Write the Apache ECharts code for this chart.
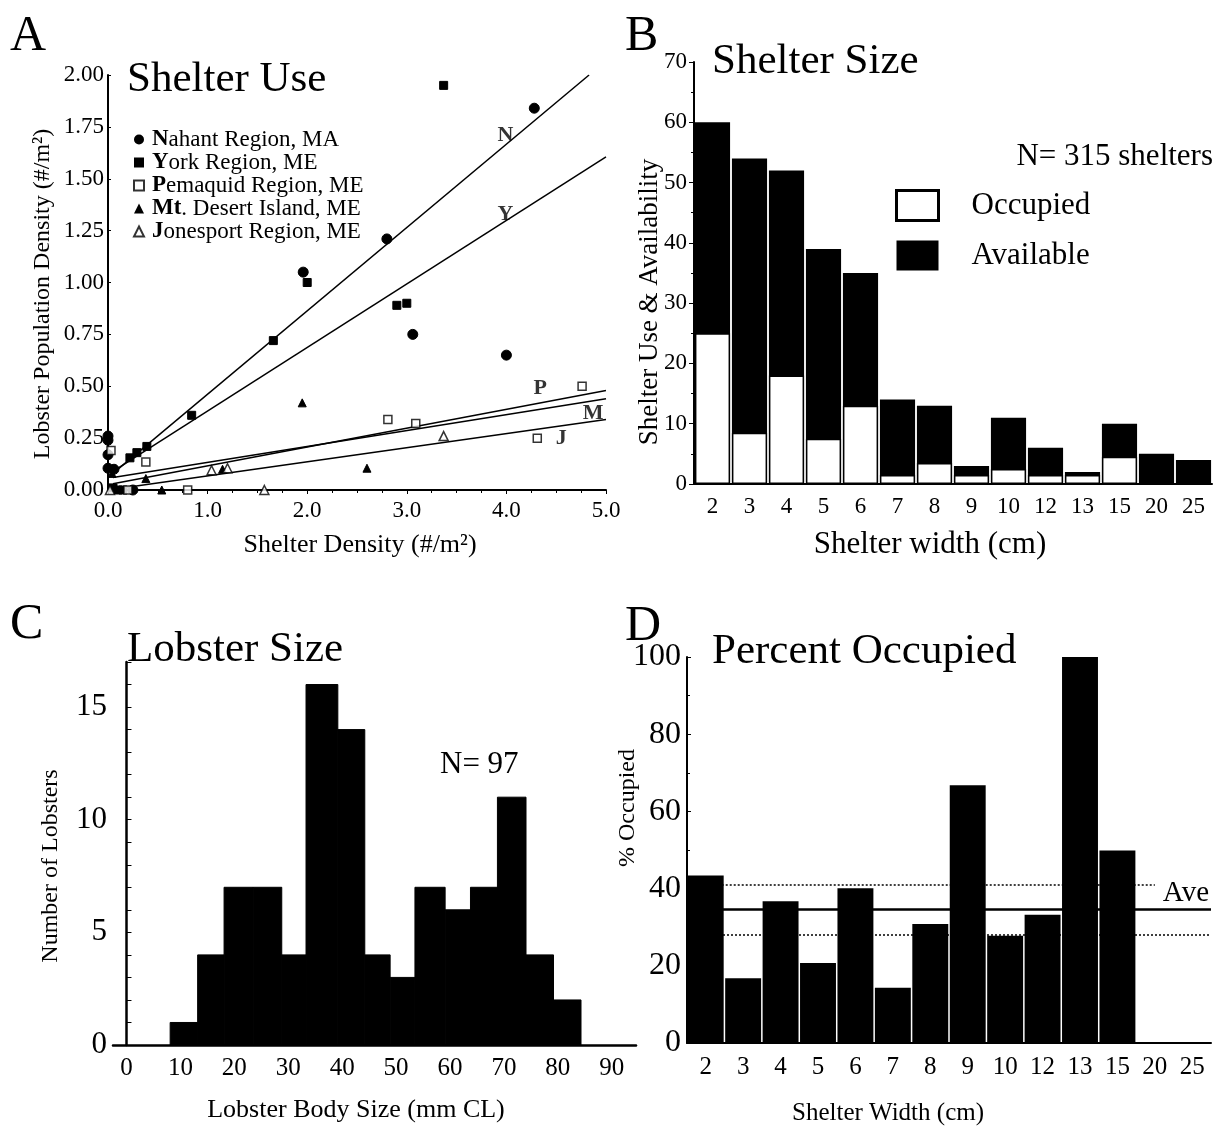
<!DOCTYPE html>
<html>
<head>
<meta charset="utf-8">
<script src="https://cdn.jsdelivr.net/npm/echarts@6/dist/echarts.min.js"></script>
<style>
  html, body { margin: 0; padding: 0; background: #fff; }
  #chart { width: 1230px; height: 1130px; }
</style>
</head>
<body>
<div id="chart"></div>
<script>
// ---- Panel A: shelter use (shelter density vs lobster density) ----
const nahant = [[0, 0.26], [0, 0.24], [0, 0.17], [0, 0.105], [0.06, 0.1], [0.25, 0], [1.96, 1.05], [2.8, 1.21], [3.06, 0.75], [4.0, 0.65], [4.28, 1.84]]
const york = [[0.05, 0.01], [0.1, 0], [0.15, 0], [0.22, 0.155], [0.29, 0.18], [0.39, 0.21], [0.84, 0.36], [1.66, 0.72], [2.0, 1.0], [2.9, 0.89], [3.0, 0.9], [3.37, 1.95]]
const pemaquid = [[0.03, 0.19], [0.2, 0], [0.38, 0.135], [0.8, 0], [2.81, 0.34], [3.09, 0.32], [4.31, 0.25], [4.76, 0.5]]
const mtDesert = [[0.04, 0.08], [0.38, 0.055], [0.54, 0], [1.15, 0.1], [1.95, 0.42], [2.6, 0.105]]
const jonesport = [[0.02, 0], [1.04, 0.095], [1.2, 0.105], [1.57, 0], [3.37, 0.26]]
// regression lines, end points
const fitN = [[0.05, 0.08], [4.83, 2.0]]
const fitY = [[0.05, 0.09], [5.0, 1.605]]
const fitP = [[0.05, 0.03], [5.0, 0.48]]
const fitM = [[0.05, 0.06], [5.0, 0.44]]
const fitJ = [[0.0, 0.0], [5.0, 0.34]]
const fitLabels = [[3.99, 1.71, 'N'], [3.99, 1.33, 'Y'], [4.34, 0.49, 'P'], [4.87, 0.37, 'M'], [4.55, 0.25, 'J']]

// ---- Panel B: shelter size ----
const widths = ['2', '3', '4', '5', '6', '7', '8', '9', '10', '12', '13', '15', '20', '25']
const available = [60, 54, 52, 39, 35, 14, 13, 3, 11, 6, 2, 10, 5, 4]
const occupied = [25, 8.5, 18, 7.5, 13, 1.5, 3.5, 1.5, 2.5, 1.5, 1.5, 4.5, 0, 0]

// ---- Panel C: lobster size histogram ----
const binEdges = [8.1, 13.2, 18.1, 23.5, 28.8, 33.3, 39.2, 44.2, 48.9, 53.5, 59.1, 63.8, 68.8, 74.1, 79.2, 84.3]
const lobsterCount = [1, 4, 7, 7, 4, 16, 14, 4, 3, 7, 6, 7, 11, 4, 2]
const sizeTicks = [0, 10, 20, 30, 40, 50, 60, 70, 80, 90]

// ---- Panel D: percent occupied ----
const pctOccupied = [43.4, 16.8, 36.7, 20.7, 40.1, 14.3, 30.8, 66.8, 27.8, 33.2, 100, 49.9, 0, 0]
const pctAverage = 34.6
const pctUpper = 41
const pctLower = 28

const serif = '"Liberation Serif", "DejaVu Serif", serif'
const black = '#000'

const axisLine = { lineStyle: { color: black, width: 2 } }
const labelStyle = (size) => ({ color: black, fontFamily: serif, fontSize: size })

const text = (str, x, y, size, opts = {}) => ({
  type: 'text',
  x,
  y,
  rotation: opts.rotate ? Math.PI / 2 : 0,
  style: {
    text: str,
    fill: black,
    font: `${opts.bold ? 'bold ' : ''}${size}px ${serif}`,
    align: opts.align || 'left',
    verticalAlign: 'middle',
  },
})

const scatter = (name, data, symbol, size) => ({
  name,
  type: 'scatter',
  xAxisIndex: 0,
  yAxisIndex: 0,
  data,
  symbol,
  symbolSize: size,
  itemStyle: { color: black, borderColor: black, opacity: 1 },
  z: 5,
})

const fitLine = (data) => ({
  type: 'line',
  xAxisIndex: 0,
  yAxisIndex: 0,
  data,
  showSymbol: false,
  symbol: 'none',
  lineStyle: { color: black, width: 1.5 },
  silent: true,
  z: 4,
})

const myChart = echarts.init(document.getElementById('chart'), null, { renderer: 'canvas' })

const option = {
  backgroundColor: '#fff',
  animation: false,
  grid: [
    { left: 108, top: 75, width: 498, height: 415, outerBoundsMode: 'none' },
    { left: 694, top: 62, width: 518, height: 422, outerBoundsMode: 'none' },
    { left: 113, top: 662, width: 523, height: 383, outerBoundsMode: 'none' },
    { left: 687, top: 657, width: 524, height: 386, outerBoundsMode: 'none' },
  ],
  xAxis: [
    {
      gridIndex: 0, type: 'value', min: 0, max: 5, interval: 1,
      axisLine, splitLine: { show: false },
      axisTick: { show: true, length: 4, lineStyle: { color: black } },
      minorTick: { show: true, splitNumber: 4, length: 3, lineStyle: { color: black } },
      axisLabel: { ...labelStyle(23), margin: 9, formatter: (v) => v.toFixed(1) },
    },
    {
      gridIndex: 1, type: 'category', data: widths,
      axisLine, axisTick: { alignWithLabel: true, length: 5, lineStyle: { color: black } },
      axisLabel: { ...labelStyle(23), margin: 11 },
    },
    {
      gridIndex: 2, type: 'value', min: -2.5, max: 94.5,
      axisLine: { lineStyle: { color: black, width: 2.5 } }, splitLine: { show: false },
      axisTick: { show: false },
      axisLabel: { ...labelStyle(25), margin: 11, customValues: sizeTicks },
    },
    {
      gridIndex: 3, type: 'category', data: widths,
      axisLine, axisTick: { alignWithLabel: true, length: 5, lineStyle: { color: black } },
      axisLabel: { ...labelStyle(25), margin: 12 },
    },
  ],
  yAxis: [
    {
      gridIndex: 0, type: 'value', min: 0, max: 2, interval: 0.25,
      axisLine: { show: true, ...axisLine }, splitLine: { show: false },
      axisTick: { show: true, inside: true, length: 3, lineStyle: { color: black } },
      axisLabel: { ...labelStyle(23), margin: 4, formatter: (v) => v.toFixed(2) },
    },
    {
      gridIndex: 1, type: 'value', min: 0, max: 70, interval: 10,
      axisLine: { show: true, ...axisLine }, splitLine: { show: false },
      axisTick: { show: true, length: 5, lineStyle: { color: black } },
      minorTick: { show: true, splitNumber: 2, length: 3, lineStyle: { color: black } },
      axisLabel: { ...labelStyle(23), margin: 7 },
    },
    {
      gridIndex: 2, type: 'value', min: 0, max: 17, interval: 1,
      axisLine: { show: true, lineStyle: { color: black, width: 2.5 } }, splitLine: { show: false },
      axisTick: { show: true, inside: true, length: 5, lineStyle: { color: black } },
      axisLabel: { ...labelStyle(31), margin: 6, formatter: (v) => (v % 5 === 0 ? v : '') },
    },
    {
      gridIndex: 3, type: 'value', min: 0, max: 100, interval: 20,
      axisLine: { show: true, ...axisLine }, splitLine: { show: false },
      axisTick: { show: true, inside: true, length: 4, lineStyle: { color: black } },
      minorTick: { show: true, splitNumber: 2, length: 3, lineStyle: { color: black } },
      axisLabel: { ...labelStyle(32), margin: 6 },
    },
  ],
  legend: [
    {
      orient: 'vertical',
      left: 128,
      top: 123,
      itemWidth: 10,
      itemHeight: 10,
      itemGap: 0,
      selectedMode: false,
      data: ['Nahant Region, MA', 'York Region, ME', 'Pemaquid Region, ME', 'Mt. Desert Island, ME', 'Jonesport Region, ME'],
      formatter: (name) => (name.startsWith('Mt')
        ? '{b|Mt}' + name.slice(2)
        : '{b|' + name[0] + '}' + name.slice(1)),
      textStyle: {
        color: black, fontFamily: serif, fontSize: 23, lineHeight: 22.5, padding: [0, 0, 0, 3],
        rich: { b: { fontFamily: serif, fontSize: 23, fontWeight: 'bold', color: black } },
      },
    },
    {
      orient: 'vertical',
      left: 890,
      top: 184,
      itemWidth: 42,
      itemHeight: 30,
      itemGap: 18,
      icon: 'rect',
      selectedMode: false,
      data: [
        { name: 'Occupied', itemStyle: { color: '#fff', borderColor: black, borderWidth: 3 } },
        { name: 'Available', itemStyle: { color: black, borderWidth: 0 } },
      ],
      textStyle: { color: black, fontFamily: serif, fontSize: 31, padding: [0, 0, 0, 28] },
    },
  ],
  series: [
    scatter('Nahant Region, MA', nahant, 'circle', 10),
    scatter('York Region, ME', york, 'rect', 8),
    {
      ...scatter('Pemaquid Region, ME', pemaquid, 'rect', 8),
      itemStyle: { color: '#fff', borderColor: black, borderWidth: 1.5 },
    },
    scatter('Mt. Desert Island, ME', mtDesert, 'triangle', 8),
    {
      ...scatter('Jonesport Region, ME', jonesport, 'triangle', 9),
      itemStyle: { color: '#fff', borderColor: black, borderWidth: 1.5 },
    },
    fitLine(fitN),
    fitLine(fitY),
    fitLine(fitP),
    fitLine(fitM),
    fitLine(fitJ),
    {
      type: 'scatter',
      xAxisIndex: 0,
      yAxisIndex: 0,
      data: fitLabels,
      symbolSize: 0,
      silent: true,
      label: {
        show: true, position: 'inside', formatter: (p) => p.value[2],
        color: black, fontFamily: serif, fontSize: 22, fontWeight: 'bold',
      },
    },
    // panel B
    {
      name: 'Available',
      type: 'bar',
      xAxisIndex: 1,
      yAxisIndex: 1,
      data: available,
      barCategoryGap: '5%',
      itemStyle: { color: black },
      z: 2,
    },
    {
      name: 'Occupied',
      type: 'bar',
      xAxisIndex: 1,
      yAxisIndex: 1,
      data: occupied,
      barGap: '-100%',
      barCategoryGap: '5%',
      itemStyle: { color: '#fff', borderColor: black, borderWidth: 1.5 },
      z: 3,
    },
    // panel C
    {
      type: 'custom',
      xAxisIndex: 2,
      yAxisIndex: 2,
      data: lobsterCount.map((c, i) => [binEdges[i], binEdges[i + 1], c]),
      encode: { x: [0, 1], y: 2 },
      renderItem: (params, api) => {
        const topLeft = api.coord([api.value(0), api.value(2)])
        const bottomRight = api.coord([api.value(1), 0])
        return {
          type: 'rect',
          shape: {
            x: topLeft[0],
            y: topLeft[1],
            width: bottomRight[0] - topLeft[0],
            height: bottomRight[1] - topLeft[1],
          },
          style: { fill: black, stroke: black, lineWidth: 1 },
        }
      },
    },
    // panel D
    {
      type: 'line',
      xAxisIndex: 3,
      yAxisIndex: 3,
      data: [],
      z: 1,
      markLine: {
        silent: true,
        symbol: 'none',
        animation: false,
        data: [
          [{ xAxis: '2', yAxis: pctUpper }, { xAxis: '20', yAxis: pctUpper }],
          {
            yAxis: pctAverage,
            lineStyle: { type: 'solid', width: 2.5 },
            label: {
              show: true, position: 'insideEndTop', formatter: 'Ave', distance: 2,
              color: black, fontFamily: serif, fontSize: 29,
            },
          },
          { yAxis: pctLower },
        ],
        lineStyle: { color: black, type: [2, 2], width: 1.5 },
        label: { show: false },
      },
    },
    {
      type: 'bar',
      xAxisIndex: 3,
      yAxisIndex: 3,
      data: pctOccupied,
      barCategoryGap: '4%',
      itemStyle: { color: black },
      z: 2,
    },
  ],
  graphic: [
    text('A', 10, 37, 50),
    text('B', 625, 37, 50),
    text('C', 10, 625, 50),
    text('D', 625, 627, 50),
    text('Shelter Use', 127, 80, 43),
    text('Shelter Size', 712, 62, 43),
    text('Lobster Size', 127, 650, 43),
    text('Percent Occupied', 712, 652, 43),
    text('N= 315 shelters', 1213, 157, 31, { align: 'right' }),
    text('N= 97', 440, 765, 31),
    text('Lobster Population Density (#/m²)', 43, 294, 24, { rotate: true, align: 'center' }),
    text('Shelter Density (#/m²)', 360, 545, 26, { align: 'center' }),
    text('Shelter Use & Availability', 650, 302, 27, { rotate: true, align: 'center' }),
    text('Shelter width (cm)', 930, 545, 31, { align: 'center' }),
    text('Number of Lobsters', 51, 866, 24, { rotate: true, align: 'center' }),
    text('Lobster Body Size (mm CL)', 356, 1110, 26, { align: 'center' }),
    text('% Occupied', 628, 808, 24, { rotate: true, align: 'center' }),
    text('Shelter Width (cm)', 888, 1113, 25, { align: 'center' }),
  ],
}

myChart.setOption(option)
</script>
</body>
</html>
